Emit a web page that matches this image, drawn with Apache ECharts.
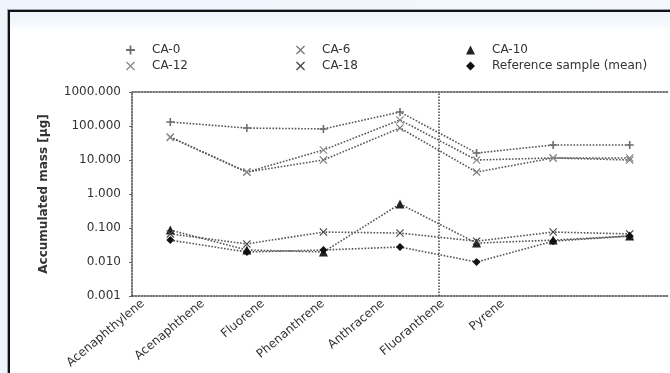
<!DOCTYPE html>
<html>
<head>
<meta charset="utf-8">
<script src="https://cdn.jsdelivr.net/npm/echarts@6/dist/echarts.min.js"></script>
<style>
  html, body { margin: 0; padding: 0; }
  body { width: 670px; height: 373px; overflow: hidden; position: relative;
         background: linear-gradient(90deg, #eef5fc, #f4f8fd); }
  #panel { position: absolute; left: 8px; top: 10px; width: 720px; height: 420px;
           border: 2px solid #111; box-shadow: -1px -1px 0 #9aa4ae;
           background: linear-gradient(180deg, #edf4fb 0px, #f6f9fd 14px, #ffffff 17px, #ffffff 100%); }
  #chart { position: absolute; left: 0; top: 0; width: 670px; height: 373px; }
</style>
</head>
<body>
<div id="panel"></div>
<div id="chart"></div>
<script>
const categories = ['Acenaphthylene', 'Acenaphthene', 'Fluorene', 'Phenanthrene', 'Anthracene', 'Fluoranthene', 'Pyrene'];
const seriesNames = ['CA-0', 'CA-6', 'CA-10', 'CA-12', 'CA-18', 'Reference sample (mean)'];
const ca0 = [131, 87, 82, 258, 16, 27.6, 27.6];
const ca6 = [47, 4.4, 10, 87, 4.4, 11.5, 10];
const ca10 = [0.087, 0.0225, 0.0197, 0.51, 0.036, 0.044, 0.058];
const ca12 = [47, 4.4, 19.7, 150, 10, 11.5, 11.5];
const ca18 = [0.067, 0.034, 0.076, 0.071, 0.041, 0.076, 0.067];
const reference = [0.044, 0.0197, 0.0225, 0.0276, 0.01, 0.041, 0.058];
const dividerAt = [4];

const X_SYM = 'path://M1,0 L5,4 L9,0 L10,1 L6,5 L10,9 L9,10 L5,6 L1,10 L0,9 L4,5 L0,1 Z';
const PLUS_SYM = 'path://M4,0 H6 V4 H10 V6 H6 V10 H4 V6 H0 V4 H4 Z';
const symbols = [PLUS_SYM, X_SYM, 'triangle', X_SYM, X_SYM, 'diamond'];
const colors = ['#6e6e6e', '#777777', '#222222', '#888888', '#444444', '#111111'];
const dataSets = [ca0, ca6, ca10, ca12, ca18, reference];
const axisColor = '#444';

const chart = echarts.init(document.getElementById('chart'), null, { renderer: 'canvas' });

const series = dataSets.map((d, i) => ({
  name: seriesNames[i],
  type: 'line',
  xAxisIndex: 0,
  yAxisIndex: 0,
  data: d,
  symbol: symbols[i],
  symbolSize: i === 2 ? 9 : 8,
  itemStyle: { color: colors[i] },
  lineStyle: { color: '#555', type: 'dotted', width: 1.6 },
  z: 3
}));

series.push({
  type: 'line', xAxisIndex: 3, yAxisIndex: 0, data: [], silent: true,
  markLine: {
    symbol: 'none', silent: true, label: { show: false },
    lineStyle: { color: axisColor, type: 'dotted', width: 1.5 },
    data: dividerAt.map(v => ({ xAxis: v }))
  }
});

const colLeft = [121, 291, 461];
const legends = seriesNames.map((n, i) => ({
  orient: 'horizontal',
  left: colLeft[i % 3],
  top: i < 3 ? 39 : 55,
  itemWidth: 9,
  itemHeight: 9,
  itemGap: 0,
  data: [{ name: n, icon: symbols[i] }],
  textStyle: { fontSize: 12, color: '#333', fontFamily: 'DejaVu Sans', padding: [0, 0, 0, 12] }
}));

chart.setOption({
  animation: false,
  backgroundColor: 'transparent',
  legend: legends,
  grid: [
    { left: 132, right: 2, top: 92, bottom: 77 },
    { left: 113, width: 420, top: 92, bottom: 77 }
  ],
  xAxis: [
    {
      type: 'category', gridIndex: 0, data: categories, boundaryGap: true,
      axisLine: { show: true, lineStyle: { color: axisColor, type: 'dotted', width: 1.5 } },
      axisTick: { show: false },
      axisLabel: { show: false },
      splitLine: { show: false }
    },
    {
      type: 'category', gridIndex: 0, data: categories, position: 'top',
      axisLine: { show: true, onZero: false, lineStyle: { color: axisColor, type: 'dotted', width: 1.5 } },
      axisTick: { show: false }, axisLabel: { show: false }, splitLine: { show: false }
    },
    {
      type: 'category', gridIndex: 1, data: categories, boundaryGap: true,
      axisLine: { show: false }, axisTick: { show: false }, splitLine: { show: false },
      axisLabel: { show: true, interval: 0, rotate: 40, fontSize: 12, color: '#333',
                   fontFamily: 'DejaVu Sans', margin: 6 }
    },
    {
      type: 'value', gridIndex: 0, min: 0, max: 7, show: false
    }
  ],
  yAxis: [
    {
      type: 'log', gridIndex: 0, logBase: 10, min: 0.001, max: 1000, interval: 1,
      name: 'Accumulated mass [µg]', nameLocation: 'middle', nameGap: 82,
      nameTextStyle: { fontSize: 12, fontWeight: 'bold', color: '#333', fontFamily: 'DejaVu Sans' },
      axisLine: { show: true, lineStyle: { color: axisColor, type: 'dotted', width: 1.5 } },
      axisTick: { show: true, length: 3, lineStyle: { color: '#666' } },
      minorTick: { show: false },
      splitLine: { show: false },
      axisLabel: { fontSize: 12, color: '#333', fontFamily: 'DejaVu Sans', margin: 11,
                   formatter: (v) => Number(v).toFixed(3) }
    },
    { type: 'value', gridIndex: 1, show: false }
  ],
  series: series
});
</script>
</body>
</html>
